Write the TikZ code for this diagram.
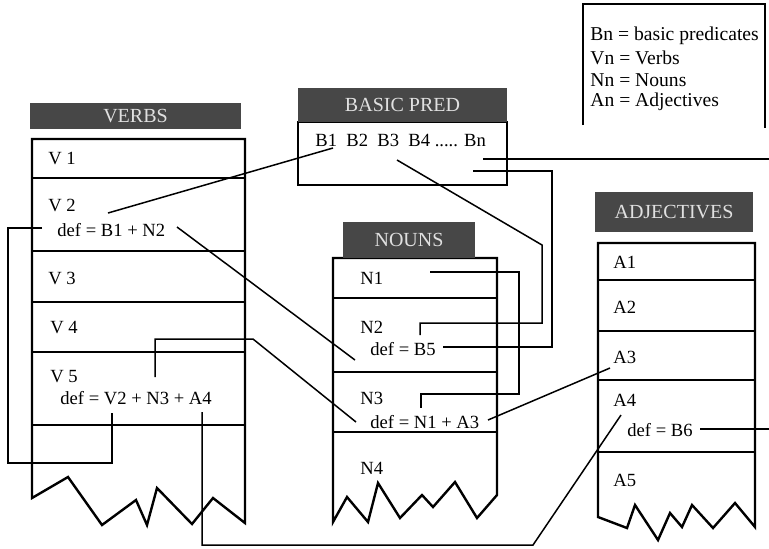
\documentclass[tikz,border=0pt]{standalone}
\usepackage{fontspec}
\setmainfont{Liberation Serif}
\usetikzlibrary{positioning}

\begin{document}
\begin{tikzpicture}[
    x=0.5pt, y=-0.5pt,
    font=\fontsize{9.3}{11}\selectfont,
    header/.style={fill=black!72, text=white!88!black, inner sep=0pt, font=\fontsize{10}{12}\selectfont},
    entry/.style={anchor=west, inner sep=0pt},
    legend/.style={entry, font=\fontsize{9.8}{11}\selectfont},
    table/.style={line width=1.2pt, line join=miter},
    row/.style={line width=0.7pt},
    link/.style={line width=0.75pt}
]
\useasboundingbox (0,0) rectangle (769,548);

% Legend
\draw[row] (583,125) -- (583,4) -- (765,4) -- (765,128);
\node[legend] (legb) at (590,36) {Bn = basic predicates};
\node[legend] (legv) at (590,58) {Vn = Verbs};
\node[legend] (legn) at (590,80) {Nn = Nouns};
\node[legend] (lega) at (590,102) {An = Adjectives};

% Verbs table
\draw[table] (32,498) -- (68,477) -- (102,525) -- (136,500) -- (147,525) -- (157,488)
    -- (192,524) -- (213,498) -- (245,523) -- (245,139) -- (32,139) -- cycle;
\foreach \y in {178,251,302,352,425}
    \draw[row] (32,\y) -- (245,\y);
\node[header, minimum width=105.5pt, minimum height=13pt] (hverbs) at (135.5,116) {VERBS};
\node[entry] (v1) at (48,158) {V 1};
\node[entry] (v2) at (48,205) {V 2};
\node[entry] (v2def) at (57,230) {def = B1 + N2};
\node[entry] (v3) at (48,278) {V 3};
\node[entry] (v4) at (50,328) {V 4};
\node[entry] (v5) at (50,377) {V 5};
\node[entry] (v5def) at (60,398) {def = V2 + N3 + A4};

% Basic predicates
\draw[table] (298,122) rectangle (507,185);
\node[header, minimum width=104.5pt, minimum height=17pt] (hbasic) at (402.5,105) {BASIC PRED};
\node[entry] (bpred) at (315,140) {B1\ \ B2\ \ B3\ \ B4 ..... Bn};

% Nouns table
\draw[table] (333,522) -- (347,497) -- (368,522) -- (378,483) -- (400,518) -- (422,495)
    -- (433,507) -- (455,482) -- (477,518) -- (497,495) -- (497,258) -- (333,258) -- cycle;
\foreach \y in {298,372,432}
    \draw[row] (333,\y) -- (497,\y);
\node[header, minimum width=66pt, minimum height=18pt] (hnouns) at (409,240) {NOUNS};
\node[entry] (n1) at (360,278) {N1};
\node[entry] (n2) at (360,327) {N2};
\node[entry] (n2def) at (370,349) {def = B5};
\node[entry] (n3) at (360,398) {N3};
\node[entry] (n3def) at (370,422) {def = N1 + A3};
\node[entry] (n4) at (360,468) {N4};

% Adjectives table
\draw[table] (598,517) -- (627,528) -- (635,505) -- (658,540) -- (670,513) -- (682,527)
    -- (692,505) -- (713,528) -- (735,503) -- (755,527) -- (755,243) -- (598,243) -- cycle;
\foreach \y in {280,331,380,452}
    \draw[row] (598,\y) -- (755,\y);
\node[header, minimum width=79pt, minimum height=20pt] (hadj) at (674,212) {ADJECTIVES};
\node[entry] (a1) at (613,262) {A1};
\node[entry] (a2) at (613,307) {A2};
\node[entry] (a3) at (613,357) {A3};
\node[entry] (a4) at (613,400) {A4};
\node[entry] (a4def) at (627,430) {def = B6};
\node[entry] (a5) at (613,480) {A5};

% Link points
\coordinate (v2b1) at (108,213);
\coordinate (v2n2) at (177,227);
\coordinate (v2out) at (42,228);
\coordinate (v5v2) at (112,413);
\coordinate (v5n3) at (155,377);
\coordinate (v5a4) at (202,412);
\coordinate (b1) at (333,148);
\coordinate (b3) at (397,160);
\coordinate (bnout) at (483,159);
\coordinate (bnin) at (473,171);
\coordinate (rightedge) at (769,159);
\coordinate (n1out) at (430,272);
\coordinate (n2in) at (355,360);
\coordinate (n2b5) at (420,335);
\coordinate (n2end) at (443,347);
\coordinate (n3in) at (356,422);
\coordinate (n3n1) at (421,408);
\coordinate (n3a3) at (488,420);
\coordinate (a3in) at (610,368);
\coordinate (a4in) at (621,415);
\coordinate (a4out) at (700,429);
\coordinate (b6edge) at (769,429);

% Links
\draw[link] (v2b1) -- (b1);
\draw[link] (v2n2) -- (n2in);
\draw[link] (v2out) -| (8,463) -| (v5v2);
\draw[link] (v5n3) |- (253,339) -- (n3in);
\draw[link] (v5a4) |- (533,545) -- (a4in);
\draw[link] (b3) -- (542,245) -- (542,323) -| (n2b5);
\draw[link] (bnout) -- (rightedge);
\draw[link] (bnin) -- (552,171) |- (n2end);
\draw[link] (n1out) -| (519,394) -| (n3n1);
\draw[link] (n3a3) -- (a3in);
\draw[link] (a4out) -- (b6edge);

\end{tikzpicture}
\end{document}
